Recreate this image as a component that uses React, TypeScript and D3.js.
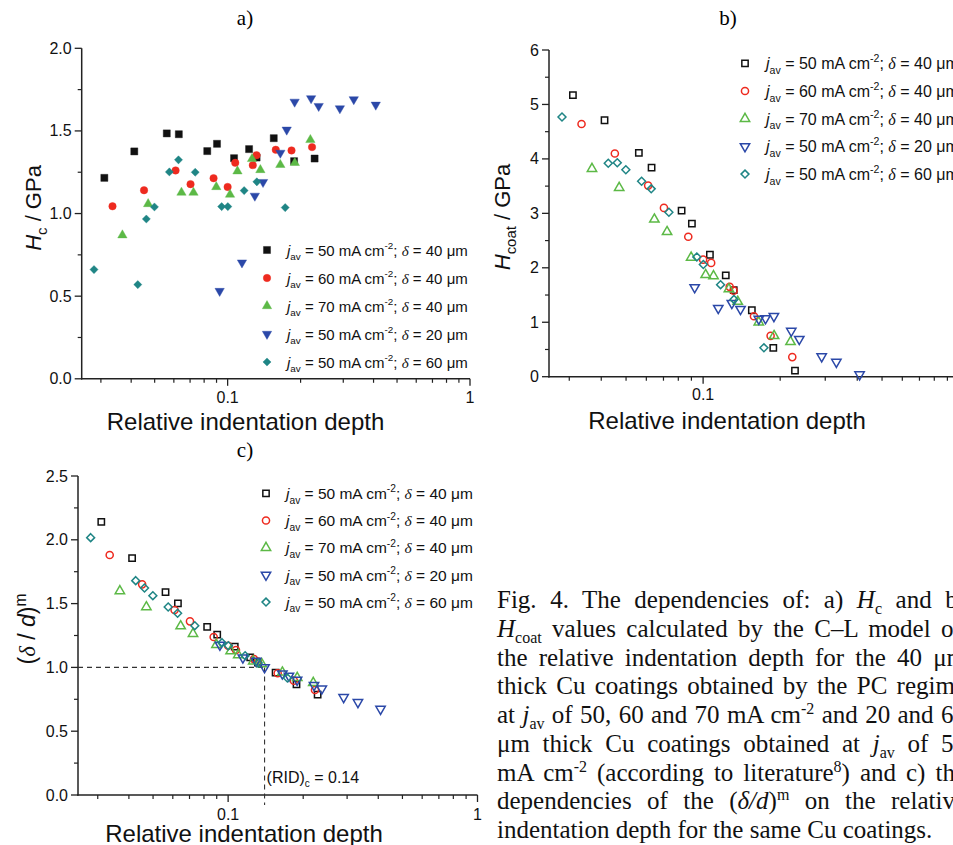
import React, { useLayoutEffect, useRef } from 'react';
import * as d3 from 'd3';

// ---------------- DATA ----------------
const seriesJ = ['50', '60', '70', '50', '50'];
const seriesDelta = ['40', '40', '40', '20', '60'];
const seriesColors = ['#111111', '#ee2a1f', '#5cb946', '#2b48a8', '#1f8585'];

// relative indentation depth (shared by all three panels)
const rid50_40 = [0.031, 0.0412, 0.0561, 0.0629, 0.0824, 0.0904, 0.1063, 0.1226, 0.1317, 0.155, 0.188, 0.2285];
const rid60_40 = [0.0335, 0.0452, 0.061, 0.0703, 0.0875, 0.1, 0.1075, 0.127, 0.1316, 0.158, 0.1835, 0.223];
const rid70_40 = [0.0368, 0.047, 0.0645, 0.0723, 0.0898, 0.1023, 0.1098, 0.1261, 0.1365, 0.165, 0.1893, 0.2195];
const rid50_20 = [0.0927, 0.1146, 0.1295, 0.14, 0.165, 0.1753, 0.189, 0.221, 0.2375, 0.2905, 0.3315, 0.4085];
const rid50_60 = [0.0281, 0.0426, 0.0462, 0.0499, 0.0575, 0.0627, 0.0735, 0.0945, 0.1002, 0.117, 0.132, 0.1728];

// a) Hc / GPa
const hc50_40 = [1.216, 1.376, 1.485, 1.48, 1.378, 1.422, 1.335, 1.39, 1.339, 1.456, 1.317, 1.333];
const hc60_40 = [1.044, 1.141, 1.261, 1.178, 1.214, 1.161, 1.307, 1.293, 1.353, 1.386, 1.382, 1.402];
const hc70_40 = [0.869, 1.058, 1.127, 1.127, 1.161, 1.115, 1.256, 1.331, 1.264, 1.295, 1.307, 1.446];
const hc50_20 = [0.531, 0.703, 1.107, 1.19, 1.367, 1.507, 1.676, 1.697, 1.65, 1.636, 1.691, 1.658];
const hc50_60 = [0.661, 0.57, 0.967, 1.04, 1.252, 1.325, 1.25, 1.042, 1.042, 1.139, 1.192, 1.036];

// b) Hcoat / GPa
const hcoat50_40 = [5.17, 4.71, 4.11, 3.84, 3.05, 2.81, 2.24, 1.86, 1.59, 1.22, 0.53, 0.11];
const hcoat60_40 = [4.64, 4.1, 3.51, 3.1, 2.57, 2.15, 2.09, 1.65, 1.58, 1.11, 0.75, 0.36];
const hcoat70_40 = [3.82, 3.47, 2.89, 2.66, 2.19, 1.87, 1.85, 1.61, 1.38, 1.0, 0.75, 0.64];
const hcoat50_20 = [1.64, 1.26, 1.35, 1.24, 1.06, 1.07, 1.11, 0.84, 0.69, 0.37, 0.27, 0.04];
const hcoat50_60 = [4.77, 3.92, 3.93, 3.8, 3.59, 3.45, 3.02, 2.2, 2.06, 1.69, 1.42, 0.53];

// c) (delta/d)^m
const dm50_40 = [2.14, 1.857, 1.59, 1.502, 1.317, 1.257, 1.163, 1.079, 1.037, 0.959, 0.867, 0.786];
const dm60_40 = [1.881, 1.651, 1.45, 1.361, 1.238, 1.17, 1.136, 1.065, 1.045, 0.954, 0.896, 0.823];
const dm70_40 = [1.599, 1.473, 1.324, 1.264, 1.178, 1.128, 1.097, 1.048, 1.027, 0.961, 0.919, 0.88];
const dm50_20 = [1.176, 1.076, 1.05, 1.0, 0.951, 0.933, 0.901, 0.86, 0.833, 0.766, 0.727, 0.674];
const dm50_60 = [2.017, 1.68, 1.622, 1.562, 1.473, 1.424, 1.327, 1.194, 1.17, 1.092, 1.034, 0.917];

const ridSeries = [rid50_40, rid60_40, rid70_40, rid50_20, rid50_60];

const xDomain = [0.025, 1];
const xMajor = [0.1, 1];
const xMinor = [0.03, 0.04, 0.05, 0.06, 0.07, 0.08, 0.09, 0.2, 0.3, 0.4, 0.5, 0.6, 0.7, 0.8, 0.9];
const xTickLabels = ['0.1', '1'];
const xTitleText = 'Relative indentation depth';

const ticksA = [0, 0.5, 1, 1.5, 2];
const minorA = [0.25, 0.75, 1.25, 1.75];
const ticksB = [0, 1, 2, 3, 4, 5, 6];
const minorB = [0.5, 1.5, 2.5, 3.5, 4.5, 5.5];
const ticksC = [0, 0.5, 1, 1.5, 2, 2.5];
const minorC = [0.25, 0.75, 1.25, 1.75, 2.25];

const ridCritical = 0.14;
const ridCriticalY = 1.0;

type Seg = { t: string; it?: boolean; sub?: boolean; sup?: boolean; serif?: boolean };

const captionLines: Seg[][] = [
  [{ t: 'Fig. 4. The dependencies of: a) ' }, { t: 'H', it: true }, { t: 'c', sub: true }, { t: ' and b)' }],
  [{ t: 'H', it: true }, { t: 'coat', sub: true }, { t: ' values calculated by the C–L model on' }],
  [{ t: 'the relative indentation depth for the 40 μm' }],
  [{ t: 'thick Cu coatings obtained by the PC regime' }],
  [{ t: 'at ' }, { t: 'j', it: true }, { t: 'av', sub: true }, { t: ' of 50, 60 and 70 mA cm' }, { t: '-2', sup: true }, { t: ' and 20 and 60' }],
  [{ t: 'μm thick Cu coatings obtained at ' }, { t: 'j', it: true }, { t: 'av', sub: true }, { t: ' of 50' }],
  [{ t: 'mA cm' }, { t: '-2', sup: true }, { t: ' (according to literature' }, { t: '8', sup: true }, { t: ') and c) the' }],
  [{ t: 'dependencies of the (' }, { t: 'δ/d', it: true }, { t: ')' }, { t: 'm', sup: true }, { t: ' on the relative' }],
  [{ t: 'indentation depth for the same Cu coatings.' }],
];

// ---------------- STYLE ----------------
const SANS = '"Liberation Sans", Arial, sans-serif';
const SERIF = '"Liberation Serif", "Times New Roman", serif';
const AXIS = '#222';

const symTypes = [d3.symbolSquare, d3.symbolCircle, d3.symbolTriangle, d3.symbolTriangle, d3.symbolDiamond2];
const symRot = [0, 0, 0, 180, 0];
const filledSize = [50, 44, 38, 38, 42];
const hollowSize = [40, 40, 38, 38, 40];

function renderSegs(segs: Seg[], size: number, subDy: number, supDy: number, small: number) {
  let cur = 0;
  return segs.map((s, i) => {
    const target = s.sub ? subDy : s.sup ? supDy : 0;
    const dy = target - cur;
    cur = target;
    return (
      <tspan
        key={i}
        dy={dy}
        fontSize={s.sub || s.sup ? small : size}
        fontStyle={s.it ? 'italic' : 'normal'}
        fontFamily={s.serif ? SERIF : undefined}
      >
        {s.t}
      </tspan>
    );
  });
}

function legendSegs(i: number): Seg[] {
  return [
    { t: 'j', it: true },
    { t: 'av', sub: true },
    { t: ` = ${seriesJ[i]} mA cm` },
    { t: '-2', sup: true },
    { t: '; ' },
    { t: 'δ', it: true, serif: true },
    { t: ` = ${seriesDelta[i]} μm` },
  ];
}

function Marker({ i, x, y, filled }: { i: number; x: number; y: number; filled: boolean }) {
  const d = d3.symbol(symTypes[i], filled ? filledSize[i] : hollowSize[i])() as string;
  return (
    <path
      d={d}
      transform={`translate(${x},${y}) rotate(${symRot[i]})`}
      fill={filled ? seriesColors[i] : 'none'}
      stroke={seriesColors[i]}
      strokeWidth={filled ? 0.4 : 1.5}
    />
  );
}

type PanelProps = {
  title: string;
  titleX: number;
  titleY: number;
  filled: boolean;
  xRange: [number, number];
  yDomain: [number, number];
  yRange: [number, number];
  yTicks: number[];
  yMinor: number[];
  yFmt: (v: number) => string;
  ys: number[][];
  legend: { mx: number; tx: number; y0: number; dy: number; size: number };
  xTitle: { cx: number; by: number };
  tickBy: number;
  yLabel: { cx: number; cy: number; segs: Seg[]; size: number };
  children?: (x: d3.ScaleLogarithmic<number, number>, y: d3.ScaleLinear<number, number>) => React.ReactNode;
};

function Panel(p: PanelProps) {
  const x = d3.scaleLog().domain(xDomain).range(p.xRange);
  const y = d3.scaleLinear().domain(p.yDomain).range(p.yRange);
  const x0 = p.xRange[0];
  const y0 = p.yRange[0];
  const ls = p.legend.size;
  return (
    <g>
      <text x={p.titleX} y={p.titleY} fontFamily={SERIF} fontSize={21} textAnchor="middle" fill="#000">
        {p.title}
      </text>
      {/* axes */}
      <line x1={x0} x2={x0} y1={y0 + 0.75} y2={p.yRange[1]} stroke={AXIS} strokeWidth={1.5} />
      <line x1={x0 - 0.75} x2={p.xRange[1]} y1={y0} y2={y0} stroke={AXIS} strokeWidth={1.5} />
      {p.yTicks.map((t) => (
        <g key={'yt' + t}>
          <line x1={x0 - 7} x2={x0} y1={y(t)} y2={y(t)} stroke={AXIS} strokeWidth={1.3} />
          <text x={x0 - 10} y={y(t) + 5.5} fontFamily={SANS} fontSize={16} textAnchor="end" fill="#111">
            {p.yFmt(t)}
          </text>
        </g>
      ))}
      {p.yMinor.map((t) => (
        <line key={'ym' + t} x1={x0 - 4} x2={x0} y1={y(t)} y2={y(t)} stroke={AXIS} strokeWidth={1.2} />
      ))}
      {xMajor.map((t, i) => (
        <g key={'xt' + t}>
          <line x1={x(t)} x2={x(t)} y1={y0} y2={y0 + 7} stroke={AXIS} strokeWidth={1.3} />
          <text x={x(t)} y={p.tickBy} fontFamily={SANS} fontSize={16} textAnchor="middle" fill="#111">
            {xTickLabels[i]}
          </text>
        </g>
      ))}
      {xMinor.map((t) => (
        <line key={'xm' + t} x1={x(t)} x2={x(t)} y1={y0} y2={y0 + 4} stroke={AXIS} strokeWidth={1.2} />
      ))}
      <text x={p.xTitle.cx} y={p.xTitle.by} fontFamily={SANS} fontSize={24} textAnchor="middle" fill="#111">
        {xTitleText}
      </text>
      <g transform={`translate(${p.yLabel.cx},${p.yLabel.cy}) rotate(-90)`}>
        <text x={0} y={8} fontFamily={SANS} fontSize={p.yLabel.size} textAnchor="middle" fill="#111">
          {renderSegs(p.yLabel.segs, p.yLabel.size, 6, -9, p.yLabel.size * 0.68)}
        </text>
      </g>
      {p.children ? p.children(x, y) : null}
      {/* data */}
      {p.ys.map((ser, si) =>
        ser.map((v, k) => <Marker key={si + '-' + k} i={si} x={x(ridSeries[si][k])} y={y(v)} filled={p.filled} />)
      )}
      {/* legend */}
      {seriesJ.map((_, i) => {
        const ry = p.legend.y0 + i * p.legend.dy;
        return (
          <g key={'lg' + i}>
            <Marker i={i} x={p.legend.mx} y={ry} filled={p.filled} />
            <text x={p.legend.tx} y={ry + ls * 0.37} fontFamily={SANS} fontSize={ls} fill="#111">
              {renderSegs(legendSegs(i), ls, ls * 0.3, -ls * 0.43, ls * 0.66)}
            </text>
          </g>
        );
      })}
    </g>
  );
}

const capX = 497;
const capRight = 966;
const capY0 = 608;
const capDy = 28.75;
const capSize = 25;

export default function App() {
  const capRefs = useRef<(SVGTextElement | null)[]>([]);
  useLayoutEffect(() => {
    capRefs.current.forEach((el, i) => {
      if (!el || i === captionLines.length - 1) return;
      el.setAttribute('word-spacing', '0');
      const w = el.getComputedTextLength();
      const spaces = ((el.textContent || '').match(/ /g) || []).length;
      if (spaces > 0) el.setAttribute('word-spacing', String((capRight - capX - w) / spaces));
    });
  }, []);

  const fmt1 = d3.format('.1f');
  const fmt0 = d3.format('d');

  return (
    <svg
      width={953}
      height={845}
      style={{ position: 'absolute', left: 0, top: 0, background: '#fff' }}
    >
      <rect x={0} y={0} width={953} height={845} fill="#fff" />
      <Panel
        title="a)"
        titleX={245}
        titleY={25}
        filled={true}
        xRange={[81.7, 470]}
        yDomain={[0, 2]}
        yRange={[378.8, 48.3]}
        yTicks={ticksA}
        yMinor={minorA}
        yFmt={fmt1}
        ys={[hc50_40, hc60_40, hc70_40, hc50_20, hc50_60]}
        legend={{ mx: 267, tx: 287, y0: 250, dy: 28, size: 15 }}
        xTitle={{ cx: 245.5, by: 430 }}
        tickBy={403}
        yLabel={{ cx: 33, cy: 208, segs: [{ t: 'H', it: true }, { t: 'c', sub: true }, { t: ' / GPa' }], size: 22 }}
      />
      <Panel
        title="b)"
        titleX={728}
        titleY={25}
        filled={false}
        xRange={[549, 959.1]}
        yDomain={[0, 6]}
        yRange={[376.7, 50]}
        yTicks={ticksB}
        yMinor={minorB}
        yFmt={fmt0}
        ys={[hcoat50_40, hcoat60_40, hcoat70_40, hcoat50_20, hcoat50_60]}
        legend={{ mx: 745, tx: 766, y0: 63.3, dy: 27.7, size: 16 }}
        xTitle={{ cx: 727, by: 429 }}
        tickBy={400}
        yLabel={{ cx: 502, cy: 217, segs: [{ t: 'H', it: true }, { t: 'coat', sub: true }, { t: ' / GPa' }], size: 22 }}
      />
      <Panel
        title="c)"
        titleX={245}
        titleY={457}
        filled={false}
        xRange={[78, 477.5]}
        yDomain={[0, 2.5]}
        yRange={[795, 476]}
        yTicks={ticksC}
        yMinor={minorC}
        yFmt={fmt1}
        ys={[dm50_40, dm60_40, dm70_40, dm50_20, dm50_60]}
        legend={{ mx: 266, tx: 286, y0: 493.3, dy: 27.2, size: 15.5 }}
        xTitle={{ cx: 244, by: 842 }}
        tickBy={820}
        yLabel={{
          cx: 27,
          cy: 629,
          segs: [{ t: '(' }, { t: 'δ', it: true, serif: true }, { t: ' / ' }, { t: 'd', it: true }, { t: ')' }, { t: 'm', sup: true }],
          size: 23,
        }}
      >
        {(x, y) => (
          <g>
            <line
              x1={x(xDomain[0])}
              x2={x(ridCritical)}
              y1={y(ridCriticalY)}
              y2={y(ridCriticalY)}
              stroke="#333"
              strokeWidth={1.1}
              strokeDasharray="5,4"
            />
            <line
              x1={x(ridCritical)}
              x2={x(ridCritical)}
              y1={y(ridCriticalY)}
              y2={y(0) + 10}
              stroke="#333"
              strokeWidth={1.1}
              strokeDasharray="5,4"
            />
            <text x={x(ridCritical) + 2} y={783} fontFamily={SANS} fontSize={16} fill="#111">
              {renderSegs([{ t: '(RID)' }, { t: 'c', sub: true }, { t: ' = 0.14' }], 16, 4, 0, 10)}
            </text>
          </g>
        )}
      </Panel>
      {captionLines.map((segs, i) => (
        <text
          key={'cap' + i}
          ref={(el) => {
            capRefs.current[i] = el;
          }}
          x={capX}
          y={capY0 + i * capDy}
          fontFamily={SERIF}
          fontSize={capSize}
          fill="#111"
        >
          {renderSegs(segs, capSize, 6, -9, 16)}
        </text>
      ))}
    </svg>
  );
}
